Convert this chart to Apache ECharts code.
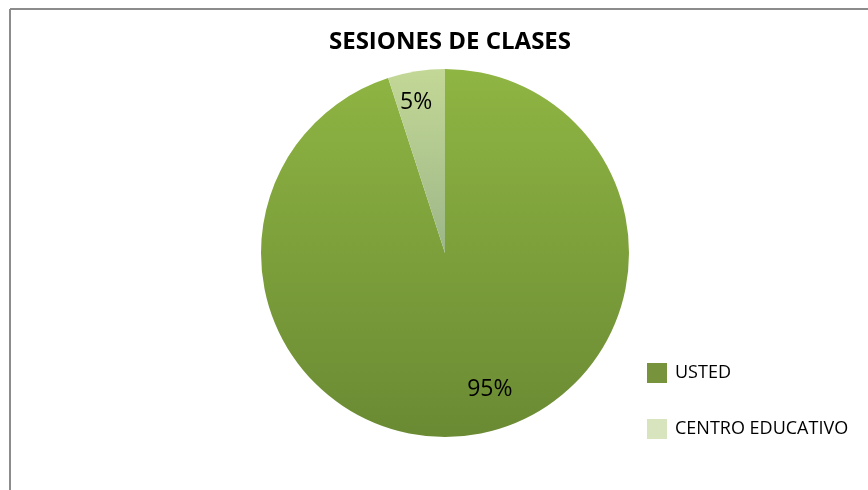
<!DOCTYPE html>
<html>
<head>
<meta charset="utf-8">
<script src="https://cdn.jsdelivr.net/npm/echarts@6/dist/echarts.min.js"></script>
<style>
  html, body { margin: 0; padding: 0; background: #fff; }
  #main { width: 868px; height: 490px; }
</style>
</head>
<body>
<div id="main"></div>
<script>
var categories = ['USTED', 'CENTRO EDUCATIVO'];
var values = [95, 5];
var labels = ['95%', '5%'];

var fill = [
    ['#8fb543', '#6a8a33'],
    ['#c3d896', '#9db688']
];
var legendColors = ['#77933c', '#d7e4bd'];
// label nudges away from the default inside position
var labelShift = [[30, 43], [-14, -57]];
// legend text padding (second entry sits higher than its swatch)
var legendPad = [[0, 0, 0, 3], [0, 0, 16, 3]];

var myChart = echarts.init(document.getElementById('main'));

myChart.setOption({
    animation: false,
    title: {
        text: 'SESIONES DE CLASES',
        left: 445,
        textAlign: 'center',
        top: 25,
        textStyle: {
            fontFamily: 'Open Sans',
            fontSize: 24,
            fontWeight: 'bold',
            color: '#000'
        }
    },
    legend: {
        orient: 'vertical',
        left: 642,
        top: 358,
        itemWidth: 20,
        itemHeight: 20,
        itemGap: 36,
        icon: 'rect',
        textStyle: {
            fontFamily: 'Open Sans',
            fontSize: 18,
            color: '#000'
        },
        data: categories.map(function (c, i) {
            return {
                name: c,
                itemStyle: { color: legendColors[i] },
                textStyle: { padding: legendPad[i] }
            };
        })
    },
    graphic: [
        { type: 'line', shape: { x1: 10, y1: 9, x2: 868, y2: 9 }, style: { stroke: '#8c8c8c', lineWidth: 2 } },
        { type: 'line', shape: { x1: 10, y1: 9, x2: 10, y2: 490 }, style: { stroke: '#8c8c8c', lineWidth: 2 } }
    ],
    series: [{
        type: 'pie',
        center: [445, 253],
        radius: 184,
        startAngle: 90,
        clockwise: true,
        avoidLabelOverlap: false,
        label: {
            show: true,
            position: 'inside',
            fontFamily: 'Open Sans',
            fontSize: 23,
            color: '#000',
            formatter: function (p) { return labels[p.dataIndex]; }
        },
        labelLine: { show: false },
        labelLayout: function (p) {
            return { dx: labelShift[p.dataIndex][0], dy: labelShift[p.dataIndex][1] };
        },
        data: categories.map(function (c, i) {
            return {
                name: c,
                value: values[i],
                itemStyle: {
                    color: new echarts.graphic.LinearGradient(0, 0, 0, 1, [
                        { offset: 0, color: fill[i][0] },
                        { offset: 1, color: fill[i][1] }
                    ])
                }
            };
        })
    }]
});
</script>
</body>
</html>
